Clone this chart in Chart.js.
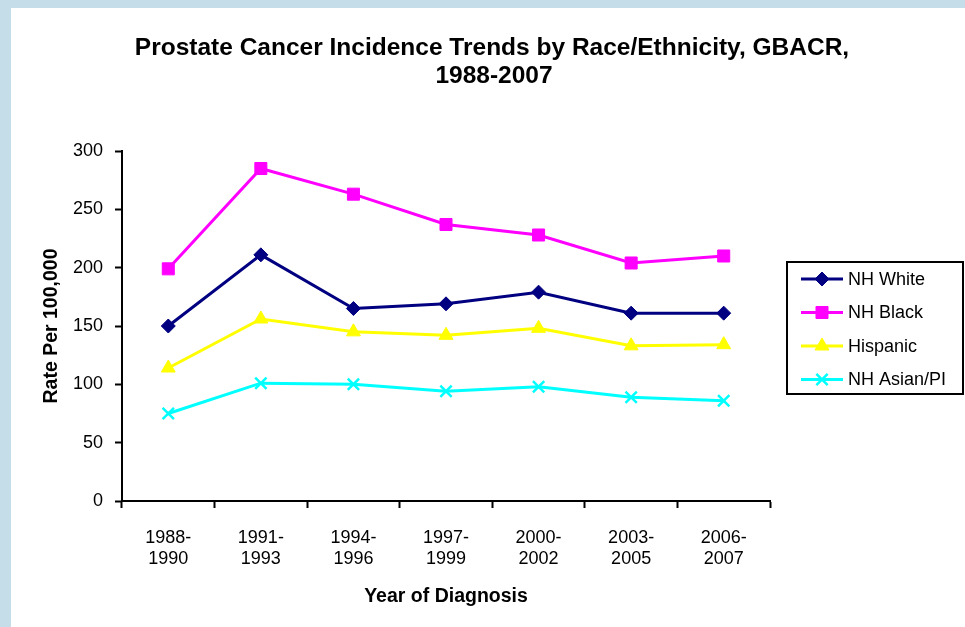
<!DOCTYPE html>
<html>
<head>
<meta charset="utf-8">
<script src="https://cdn.jsdelivr.net/npm/chart.js@4"></script>
<style>
  html, body { margin: 0; padding: 0; background: #c5dde9; }
  #wrap { position: relative; width: 965px; height: 627px; }
</style>
</head>
<body>
<div id="wrap"><canvas id="chart" width="965" height="627"></canvas></div>
<script>
// === DATA ===
const periods = [
  ["1988-", "1990"], ["1991-", "1993"], ["1994-", "1996"], ["1997-", "1999"],
  ["2000-", "2002"], ["2003-", "2005"], ["2006-", "2007"]
];
const nhWhite = [150, 211, 165, 169, 179, 161, 161];
const nhBlack = [199, 285, 263, 237, 228, 204, 210];
const hispanic = [114, 156, 145, 142, 148, 133, 134];
const nhAsianPI = [75, 101, 100, 94, 98, 89, 86];
const seriesNames = ["NH White", "NH Black", "Hispanic", "NH Asian/PI"];
const yTicks = [0, 50, 100, 150, 200, 250, 300];

const FONT = "'Liberation Sans', Arial, sans-serif";

function series(label, data, color, style, radius) {
  return {
    label: label,
    data: data,
    borderColor: color,
    backgroundColor: color,
    pointBackgroundColor: color,
    pointBorderColor: color,
    pointStyle: style,
    pointRadius: radius,
    pointBorderWidth: style === "crossRot" ? 2.5 : 1,
    borderWidth: 3,
    tension: 0
  };
}

const datasets = [
  series(seriesNames[0], nhWhite, "#000080", "rectRot", 7),
  series(seriesNames[1], nhBlack, "#ff00ff", "rect", 8.5),
  series(seriesNames[2], hispanic, "#ffff00", "triangle", 8),
  series(seriesNames[3], nhAsianPI, "#00ffff", "crossRot", 8)
];

// background: blue frame + white panel
const panelPlugin = {
  id: "panel",
  beforeDraw(chart) {
    const ctx = chart.ctx;
    ctx.save();
    ctx.fillStyle = "#c5dde9";
    ctx.fillRect(0, 0, chart.width, chart.height);
    ctx.fillStyle = "#ffffff";
    ctx.fillRect(11, 8, chart.width - 11, chart.height - 8);
    ctx.restore();
  }
};

// boxed legend on the right, drawn from the datasets
const boxLegend = {
  id: "boxLegend",
  afterDraw(chart) {
    const ctx = chart.ctx;
    const x = 787, y = 262, w = 176, h = 132;
    ctx.save();
    ctx.strokeStyle = "#000";
    ctx.lineWidth = 2;
    ctx.strokeRect(x, y, w, h);
    ctx.font = "18px " + FONT;
    ctx.textBaseline = "middle";
    chart.data.datasets.forEach((ds, i) => {
      const cy = y + 17 + i * 33.5;
      ctx.strokeStyle = ds.borderColor;
      ctx.lineWidth = 3;
      ctx.beginPath();
      ctx.moveTo(801, cy);
      ctx.lineTo(843, cy);
      ctx.stroke();
      ctx.fillStyle = ds.borderColor;
      ctx.strokeStyle = ds.borderColor;
      ctx.lineWidth = ds.pointBorderWidth;
      Chart.helpers.drawPoint(ctx, {
        pointStyle: ds.pointStyle,
        radius: ds.pointRadius,
        borderWidth: ds.pointBorderWidth,
        rotation: 0
      }, 822, cy);
      ctx.fillStyle = "#000";
      ctx.fillText(ds.label, 848, cy + 1);
    });
    ctx.restore();
  }
};

new Chart(document.getElementById("chart"), {
  type: "line",
  data: { labels: periods, datasets: datasets },
  plugins: [panelPlugin, boxLegend],
  options: {
    responsive: false,
    animation: false,
    devicePixelRatio: 1,
    layout: { padding: { top: 151, right: 195, bottom: 0, left: 0 } },
    plugins: {
      legend: { display: false },
      tooltip: { enabled: false },
      title: { display: false }
    },
    scales: {
      x: {
        offset: true,
        grid: {
          display: true,
          drawOnChartArea: false,
          drawTicks: true,
          tickLength: 7,
          tickWidth: 2,
          color: "#000",
          offset: true
        },
        border: { display: true, color: "#000", width: 2 },
        ticks: {
          color: "#000",
          font: { family: FONT, size: 18, lineHeight: 1.2 },
          padding: 19,
          maxRotation: 0,
          autoSkip: false
        },
        title: {
          display: true,
          text: "Year of Diagnosis",
          color: "#000",
          font: { family: FONT, size: 19.5, weight: "bold", lineHeight: 1.2 },
          padding: { top: 0, bottom: 19 }
        },
        afterFit(scale) { scale.height = 627 - 501; }
      },
      y: {
        min: 0,
        max: 300,
        afterBuildTicks(scale) { scale.ticks = yTicks.map(v => ({ value: v })); },
        grid: {
          display: true,
          drawOnChartArea: false,
          drawTicks: true,
          tickLength: 7,
          tickWidth: 2,
          color: "#000"
        },
        border: { display: true, color: "#000", width: 2 },
        ticks: {
          color: "#000",
          font: { family: FONT, size: 18 },
          padding: 12
        },
        title: {
          display: true,
          text: "Rate Per 100,000",
          color: "#000",
          font: { family: FONT, size: 19.5, weight: "bold", lineHeight: 1.2 },
          padding: { top: 40, bottom: 0 }
        },
        afterFit(scale) { scale.width = 122; }
      }
    }
  }
});

// title drawn after the chart, centred over the panel
(function drawTitle() {
  const c = document.getElementById("chart");
  const ctx = c.getContext("2d");
  ctx.save();
  ctx.fillStyle = "#000";
  ctx.font = "bold 24.5px " + FONT;
  ctx.textAlign = "center";
  ctx.textBaseline = "alphabetic";
  ctx.fillText("Prostate Cancer Incidence Trends by Race/Ethnicity, GBACR,", 492, 55);
  ctx.fillText("1988-2007", 494, 83);
  ctx.restore();
})();
</script>
</body>
</html>
